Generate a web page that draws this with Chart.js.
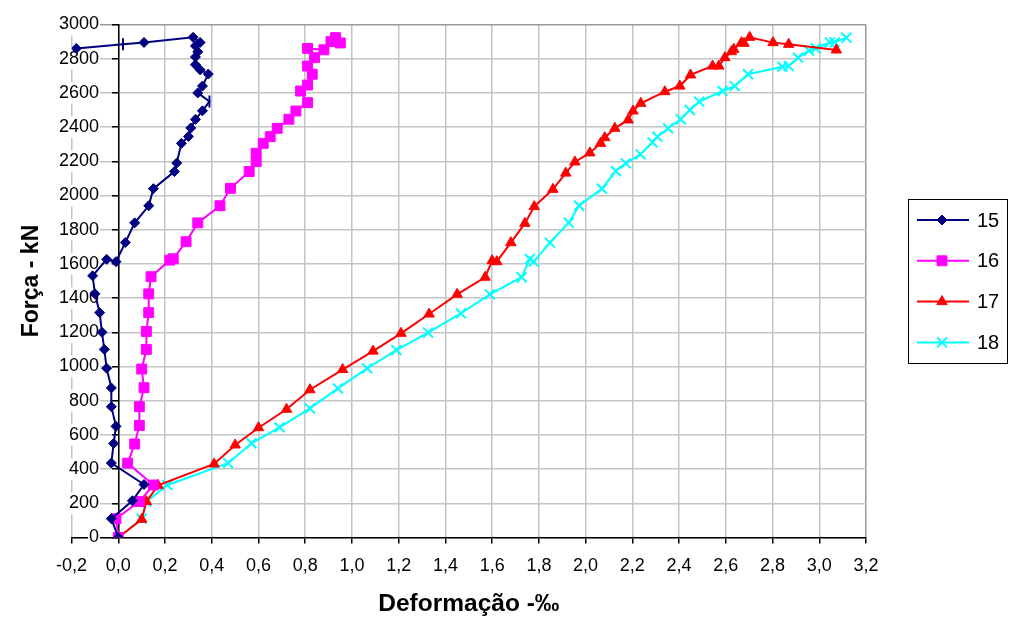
<!DOCTYPE html>
<html>
<head>
<meta charset="utf-8">
<script src="https://cdn.jsdelivr.net/npm/chart.js@4/dist/chart.umd.min.js"></script>
<style>
  html, body { margin: 0; padding: 0; background: #fff; }
  #wrap { width: 1011px; height: 619px; position: relative; }
</style>
</head>
<body>
<div id="wrap"><canvas id="c" width="1011" height="619"></canvas></div>
<script>
// Load (kN) vs strain (‰) readings, one pair of arrays per gauge
const seriesNames = ['15', '16', '17', '18'];

const strain15 = [0, -0.03, 0.06, 0.11, -0.03, -0.02, -0.01, -0.03, -0.03, -0.05, -0.06, -0.07, -0.08, -0.10, -0.11,
  -0.05, -0.01, 0.03, 0.07, 0.13, 0.15, 0.24, 0.25, 0.27, 0.30, 0.31, 0.33, 0.36, 0.39, 0.34, 0.36, 0.385, 0.35,
  0.33, 0.33, 0.34, 0.33, 0.35, 0.32, 0.11, 0.02, -0.18];
const load15 = [0, 110, 215, 310, 435, 550, 650, 765, 875, 990, 1100, 1200, 1315, 1425, 1530,
  1627, 1613, 1725, 1840, 1940, 2040, 2140, 2190, 2305, 2345, 2395, 2445, 2495, 2550, 2600, 2640, 2710, 2735,
  2765, 2810, 2840, 2875, 2895, 2925, 2895, 2885, 2860];

const strain16 = [0, -0.01, 0.09, 0.15, 0.04, 0.07, 0.09, 0.09, 0.11, 0.10, 0.12, 0.12, 0.13, 0.13, 0.14,
  0.22, 0.235, 0.29, 0.34, 0.435, 0.48, 0.56, 0.59, 0.59, 0.62, 0.65, 0.68, 0.73, 0.76, 0.81, 0.78, 0.81, 0.83,
  0.81, 0.84, 0.81, 0.88, 0.91, 0.93, 0.95];
const load16 = [0, 110, 210, 307, 435, 547, 655, 765, 876, 985, 1100, 1205, 1315, 1425, 1525,
  1622, 1630, 1730, 1840, 1940, 2042, 2140, 2198, 2247, 2305, 2344, 2393, 2446, 2494, 2543, 2611, 2646, 2709,
  2757, 2806, 2860, 2852, 2900, 2923, 2892];

const strain17 = [0, 0.10, 0.12, 0.17, 0.41, 0.50, 0.60, 0.72, 0.82, 0.96, 1.09, 1.21, 1.33, 1.45, 1.57,
  1.60, 1.62, 1.68, 1.74, 1.78, 1.86, 1.915, 1.954, 2.018, 2.064, 2.082, 2.125, 2.182, 2.203, 2.236, 2.339,
  2.403, 2.449, 2.543, 2.57, 2.596, 2.624, 2.634, 2.667, 2.678, 2.702, 2.802, 2.869, 3.073];
const load17 = [0, 106, 210, 305, 430, 541, 642, 750, 864, 982, 1090, 1194, 1307, 1422, 1522,
  1619, 1613, 1724, 1837, 1935, 2036, 2131, 2196, 2249, 2305, 2338, 2393, 2442, 2494, 2539, 2607,
  2640, 2705, 2757, 2757, 2806, 2841, 2855, 2894, 2890, 2925, 2894, 2884, 2851];

const strain18 = [0, 0.10, 0.12, 0.21, 0.47, 0.57, 0.69, 0.82, 0.94, 1.065, 1.19, 1.326, 1.466, 1.59, 1.726,
  1.761, 1.778, 1.847, 1.928, 1.972, 2.07, 2.129, 2.172, 2.235, 2.286, 2.307, 2.353, 2.407, 2.446, 2.486,
  2.586, 2.638, 2.695, 2.842, 2.869, 2.909, 2.956, 2.985, 3.045, 3.066, 3.116];
const load18 = [0, 110, 210, 307, 435, 551, 644, 755, 872, 989, 1096, 1198, 1311, 1422, 1522,
  1629, 1613, 1724, 1841, 1940, 2040, 2143, 2188, 2241, 2311, 2344, 2393, 2446, 2500, 2549,
  2611, 2640, 2709, 2753, 2757, 2806, 2847, 2861, 2896, 2896, 2923];

// Axis tick values
const xTickValues = [-0.2, 0, 0.2, 0.4, 0.6, 0.8, 1.0, 1.2, 1.4, 1.6, 1.8, 2.0, 2.2, 2.4, 2.6, 2.8, 3.0, 3.2];
const yTickValues = [0, 200, 400, 600, 800, 1000, 1200, 1400, 1600, 1800, 2000, 2200, 2400, 2600, 2800, 3000];

// Readings of gauge 15 that were logged with a tick marker instead of a diamond
const tickMarked15 = [28, 40];

// The load axis crosses at zero strain; its labels sit just left of it
const loadAxisCross = 0;
const loadLabelColumn = -0.083;

const pairs = (xs, ys) => xs.map((x, i) => ({ x: x, y: ys[i] }));

Chart.defaults.font.family = "'Liberation Sans', Arial, sans-serif";
Chart.defaults.color = '#000';

const boxLegend = {
  id: 'boxLegend',
  afterDraw(chart) {
    const ctx = chart.ctx;
    const left = 908.5, top = 199.5, w = 99, h = 164;
    ctx.save();
    ctx.fillStyle = '#fff';
    ctx.fillRect(left, top, w, h);
    ctx.strokeStyle = '#000';
    ctx.lineWidth = 1;
    ctx.strokeRect(left, top, w, h);
    chart.data.datasets.forEach((ds, i) => {
      const y = 220 + i * 40.8;
      ctx.strokeStyle = ds.borderColor;
      ctx.lineWidth = 2;
      ctx.beginPath();
      ctx.moveTo(917, y);
      ctx.lineTo(969, y);
      ctx.stroke();
      ctx.fillStyle = ds.pointBackgroundColor;
      ctx.strokeStyle = ds.pointBorderColor;
      ctx.lineWidth = ds.legendMarkerWidth;
      Chart.helpers.drawPoint(ctx, {
        pointStyle: ds.legendMarker, radius: ds.legendMarkerRadius,
        borderWidth: ds.legendMarkerWidth, rotation: 0
      }, 942, y);
      ctx.fillStyle = '#000';
      ctx.font = "20px 'Liberation Sans', Arial, sans-serif";
      ctx.textAlign = 'left';
      ctx.textBaseline = 'middle';
      ctx.fillText(ds.label, 977, y + 1);
    });
    ctx.restore();
  }
};

const gridColor = (ctx, n) => (ctx.index === n - 1 ? '#9a9a9a' : '#c4c4c4');
const setTicks = values => s => { s.ticks = values.map(v => ({ value: v })); };

new Chart(document.getElementById('c'), {
  type: 'scatter',
  data: {
    datasets: [
      {
        label: seriesNames[0], data: pairs(strain15, load15), showLine: true,
        borderColor: '#000080', borderWidth: 2,
        pointBackgroundColor: '#000080', pointBorderColor: '#000080',
        pointStyle: c => (tickMarked15.includes(c.dataIndex) ? 'line' : 'rectRot'),
        pointRotation: c => (tickMarked15.includes(c.dataIndex) ? 90 : 0),
        pointRadius: c => (tickMarked15.includes(c.dataIndex) ? 6 : 5),
        pointBorderWidth: c => (tickMarked15.includes(c.dataIndex) ? 2 : 1),
        legendMarker: 'rectRot', legendMarkerRadius: 5, legendMarkerWidth: 1
      },
      {
        label: seriesNames[1], data: pairs(strain16, load16), showLine: true,
        borderColor: '#ff00ff', borderWidth: 2,
        pointBackgroundColor: '#ff00ff', pointBorderColor: '#ff00ff',
        pointStyle: 'rect', pointRadius: 7, pointBorderWidth: 1,
        legendMarker: 'rect', legendMarkerRadius: 7, legendMarkerWidth: 1
      },
      {
        label: seriesNames[2], data: pairs(strain17, load17), showLine: true,
        borderColor: '#ff0000', borderWidth: 2,
        pointBackgroundColor: '#ff0000', pointBorderColor: '#ff0000',
        pointStyle: 'triangle', pointRadius: 6, pointBorderWidth: 1,
        legendMarker: 'triangle', legendMarkerRadius: 6, legendMarkerWidth: 1
      },
      {
        label: seriesNames[3], data: pairs(strain18, load18), showLine: true,
        borderColor: '#00ffff', borderWidth: 2,
        pointBackgroundColor: '#00ffff', pointBorderColor: '#00ffff',
        pointStyle: 'crossRot', pointRadius: 7, pointBorderWidth: 2,
        legendMarker: 'crossRot', legendMarkerRadius: 7, legendMarkerWidth: 2
      }
    ]
  },
  options: {
    responsive: false,
    animation: false,
    devicePixelRatio: 1,
    layout: { padding: { top: 24.5, right: 145, bottom: 0, left: 0 } },
    elements: { line: { tension: 0 } },
    plugins: {
      legend: { display: false },
      tooltip: { enabled: false },
      title: {
        display: true, position: 'left', fullSize: false,
        text: 'Força - kN', color: '#000',
        font: { size: 23, weight: 'bold' },
        padding: { top: 18.2, bottom: 25.8 }
      }
    },
    scales: {
      x: {
        type: 'linear', min: -0.2, max: 3.2,
        afterBuildTicks: setTicks(xTickValues),
        afterFit: s => { s.height = 81.5; },
        ticks: {
          autoSkip: false, maxRotation: 0, padding: 12,
          font: { size: 18 }, color: '#000',
          callback: v => v.toFixed(1).replace('.', ',')
        },
        grid: {
          color: c => gridColor(c, xTickValues.length), lineWidth: 1.5,
          tickColor: '#000', tickLength: 6
        },
        border: { color: '#000', width: 1.5 },
        title: {
          display: true, text: 'Deformação -‰', color: '#000',
          font: { size: 24.5, weight: 'bold' }, padding: { top: 0, bottom: 0 }
        }
      },
      y: {
        type: 'linear', min: 0, max: 3000, position: { x: loadAxisCross },
        afterBuildTicks: setTicks(yTickValues),
        ticks: { display: false },
        grid: {
          color: c => gridColor(c, yTickValues.length), lineWidth: 1.5,
          tickColor: '#000', tickLength: 6
        },
        border: { color: '#000', width: 1.5 }
      },
      yLabels: {
        type: 'linear', axis: 'y', min: 0, max: 3000, position: { x: loadLabelColumn },
        afterBuildTicks: setTicks(yTickValues),
        ticks: {
          autoSkip: false,
          font: { size: 18 }, color: '#000',
          showLabelBackdrop: true, backdropColor: '#fff',
          backdropPadding: { top: 0, bottom: 0, left: 1, right: 1 },
          callback: v => String(v)
        },
        grid: { display: false },
        border: { display: false }
      }
    }
  },
  plugins: [boxLegend]
});
</script>
</body>
</html>
